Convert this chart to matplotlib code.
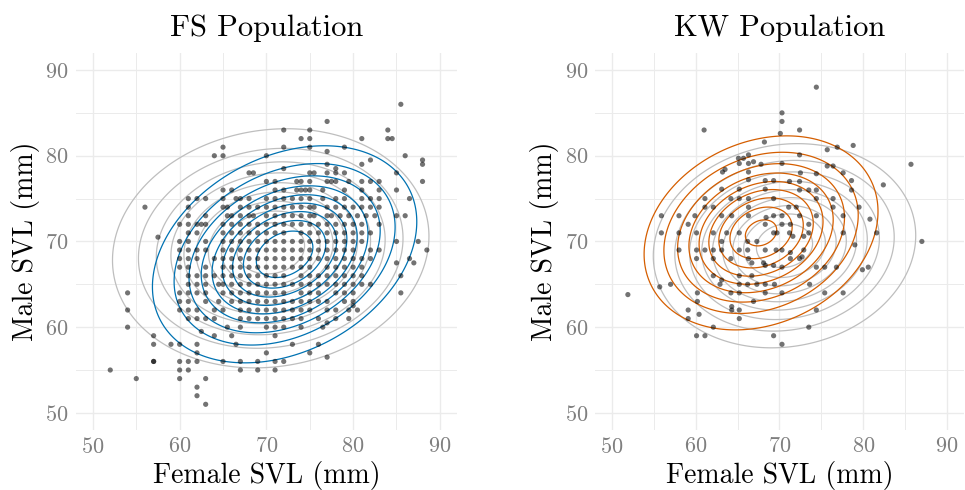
import numpy as np
import matplotlib
matplotlib.use('Agg')
import matplotlib.pyplot as plt

plt.rcParams['font.family'] = ['cmr10', 'DejaVu Serif']
plt.rcParams['mathtext.fontset'] = 'cm'
plt.rcParams['axes.formatter.use_mathtext'] = True
plt.rcParams['axes.unicode_minus'] = False

# ---------------- data ----------------
titles = ["FS Population", "KW Population"]
x_label = "Female SVL (mm)"
y_label = "Male SVL (mm)"
ticks = [50, 60, 70, 80, 90]

# FS population: male SVL rows and the female SVL values found on each row
fs_row_male = [86, 84, 83, 82, 81, 80.5, 80, 79.5, 79, 78.5, 78, 77, 76, 75, 74, 73, 72, 71,
               70.5, 70, 69, 68, 67.5, 67, 66, 65, 64, 63, 62.5, 62, 61, 60.5, 60, 59.5,
               59, 58, 57, 56.5, 56, 55, 54, 53, 52, 51]
fs_row_female = [
    [85.5],
    [77],
    [72, 75, 84],
    [74, 75, 81, 84, 84.5],
    [65, 72, 75, 79],
    [77],
    [64, 65, 70, 86],
    [82, 88],
    [77, 81, 88],
    [72, 78],
    [68, 68.5, 75, 75.5, 77, 78, 79, 85],
    [70, 71, 73.5, 74, 75, 77, 77.5, 78, 79.5, 81, 82, 83, 88],
    [65, 66, 71, 72, 73.5, 74, 74.5, 75, 76.5, 79, 81, 83, 85],
    [61, 62, 63, 65, 66.5, 67, 68, 70, 71, 72, 73, 74, 75, 76.5, 78, 79, 81, 82, 83, 86.5],
    [56, 61, 65, 65.5, 67, 68, 69, 70, 71, 72, 73, 74, 75, 75.5, 77, 78, 79, 80, 81, 82, 83],
    [61, 63, 65.5, 66, 67, 68, 68.5, 70, 71, 72, 73, 74, 75, 75.5, 77, 77.5, 78.5, 79.5,
     80.5, 81.5, 82.5, 85, 86],
    [60, 61, 62, 62.5, 63, 65, 66, 67, 68, 69, 70, 71, 72, 73, 74, 75, 76, 77, 78, 79, 80, 81, 83],
    [61, 62, 65, 66, 67, 68, 69, 70, 71, 72, 74, 75, 76, 77, 78, 79, 80, 81, 82],
    [57.5],
    [60, 61, 63, 65, 66, 67, 68, 69, 70, 71, 72, 73, 74, 75, 76, 77, 78, 79, 80, 81, 85, 87.5],
    [60, 61, 62, 63, 65, 66, 67, 68, 69, 70, 71, 72, 73, 74, 75, 76, 77, 78, 79, 80, 82, 83, 88.5],
    [60, 61, 62, 64, 65, 66, 67, 68, 69, 70, 71, 72, 73, 74, 75, 76, 77, 78, 79, 80, 81, 82, 86.5],
    [85, 87],
    [60, 61, 63, 65, 66, 67, 68, 69, 70, 71, 72, 73, 74, 75, 77, 78, 79, 80, 81],
    [61, 62, 63, 64, 65, 66, 67, 68, 69, 70, 71, 72, 74, 75, 76, 77, 78, 79, 80, 81, 85.5],
    [61, 62, 63, 64.5, 65, 66, 67, 68, 69, 70, 71, 72, 73, 74, 75, 76, 77, 78, 79, 80, 81, 82],
    [54, 60, 61, 62, 63, 65, 66, 67, 68, 69, 70, 71, 72, 74, 75, 76, 78, 79, 80, 85.5],
    [60, 61, 63, 64.5, 66, 67, 68, 69, 70, 71, 72, 73, 74, 75, 76, 77, 79, 80],
    [80],
    [54, 60, 61, 62, 64, 65, 67, 68, 69, 70, 71, 72, 73, 74, 75, 77, 78, 79.5, 80.5],
    [61, 62, 63, 64, 67, 68, 69, 70, 71, 72, 73, 74, 76, 78, 79.5],
    [77],
    [54, 65.5, 67, 70, 71, 72, 74, 76.5],
    [62.5],
    [57, 64, 66, 71],
    [57, 59, 60, 62, 66.5, 73, 76],
    [62, 70, 75],
    [77],
    [57, 57, 60, 61, 62, 65, 67, 69, 71, 72],
    [52, 60, 61, 67, 69, 71],
    [55, 60, 63],
    [62],
    [62],
    [63],
]

# KW population points
kw_female = [61, 68.2, 65.1, 65.7, 66.3, 65.2, 66.3, 66.9, 67.8, 63.2, 63.5, 66.3, 66.3, 68.3, 69.3,
             63.1, 65.2, 68.3, 61.1, 64.2, 65.2, 66.3, 69.3, 61.1, 62.1, 66.3, 55.9, 58.0, 59.1,
             59.9, 63.1, 64.3, 66.3, 68.4, 69.3, 68.3, 55.9, 58.0, 60.1, 62.1, 63.7, 65.2, 69.3,
             63.1, 66.2, 67.3, 58.0, 60.1, 61.1, 62.1, 63.1, 65.2, 66.2, 68.3, 69.6, 60.1, 62.1,
             64.2, 66.3, 66.7, 68.1, 68.3, 69.3, 62.1, 63.1, 65.2, 66.7, 62.9, 65.2, 66.2, 67.3,
             68.3, 55.7, 57, 60.2, 64.2, 65.2, 68.3, 60.2, 66.9, 64.3, 64.3, 65.2, 59.1, 60.4,
             59.1, 65.2, 62.1, 60.1, 61.1, 69.3, 51.9,
             74.4, 70.3, 70.3, 72.4, 70.1, 78.8, 76.9, 75.7, 72.4, 70.3, 75.7, 76.4, 77.6, 74.4,
             72.5, 78.6, 82.4, 71.2, 72.4, 72.4, 73.5, 74.4, 78.6, 74.4, 76.4, 71.1, 72, 76.4,
             79.5, 70.3, 72.4, 74.4, 77.6, 80.8, 70.3, 71.3, 73.5, 69.7, 71.2, 73.5, 77.6, 81.6,
             72.9, 71.6, 79, 70.3, 71.3, 72.9, 72.7, 72.4, 71.3, 70.3, 74.4, 75.4, 76.8, 79.9,
             80.6, 73.6, 69.4, 70.3, 75.4, 77.6, 74.4, 73.5, 70.3, 85.7, 87]
kw_male = [83, 81.6, 79.7, 79.7, 80.1, 79.1, 79.1, 79.3, 79.0, 78.1, 78.4, 78.1, 77.2, 77.1, 77.1,
           76.1, 76.1, 76.1, 75, 75, 75, 75, 75, 74, 74, 74, 73, 73, 72,
           73, 73, 73, 73, 72.8, 73, 72, 71, 71, 71, 71, 71, 71, 71,
           70, 70, 70, 69, 69, 69, 69, 69, 69, 69, 69, 69, 68, 68,
           68, 68, 67.5, 67.5, 67.2, 67.2, 66, 65.5, 66, 66, 65, 65, 65, 65,
           65, 64.7, 65, 64, 64, 64, 64, 63, 63, 62.4, 62, 62, 62, 61.5,
           61, 61, 60, 59, 59, 59, 63.8,
           88, 85, 84, 83, 82.6, 81.2, 81, 80.7, 80.1, 79.1, 78.8, 78.8, 78, 77.9,
           78, 77.1, 76.6, 77, 77, 76, 76, 76, 76, 75, 75, 74, 74, 74,
           74, 73, 73, 73, 73, 72.6, 72, 72, 72, 71, 71, 71, 71, 71,
           70.6, 70.6, 69.6, 69, 68.7, 69, 68.2, 68, 68, 67, 67, 67, 67, 66.7,
           67, 65, 65, 64, 64, 64, 62, 60, 58, 79, 70]

# bivariate-normal contour parameters: mean x, mean y, sd x, sd y, correlation, peak/step ratio
fs_fit = [72.1, 68.5, 7.1, 5.9, 0.30, 10.0]
fs_ref = [70.5, 69.2, 8.5, 6.5, 0.10, 10.0]
kw_fit = [67.8, 71.0, 6.6, 5.35, 0.22, 9.37]
kw_ref = [70.6, 69.5, 7.3, 5.55, 0.10, 10.0]
contour_steps = [1, 2, 3, 4, 5, 6, 7, 8, 9]

fs_female = [x for row in fs_row_female for x in row]
fs_male = [m for m, row in zip(fs_row_male, fs_row_female) for _ in row]

# ---------------- drawing ----------------
fig = plt.figure(figsize=(9.65, 4.9), dpi=100)
axL = fig.add_axes([0.0783, 0.1224, 0.3955, 0.7697])
axR = fig.add_axes([0.6168, 0.1224, 0.3819, 0.7697])

gx, gy = np.meshgrid(np.linspace(40, 100, 600), np.linspace(40, 100, 600))


def rel_density(p):
    mx, my, sx, sy, r, a = p
    zx = (gx - mx) / sx
    zy = (gy - my) / sy
    q = (zx ** 2 - 2 * r * zx * zy + zy ** 2) / (1 - r ** 2)
    return a * np.exp(-q / 2)


panels = [
    (axL, fs_female, fs_male, fs_ref, fs_fit, '#0072B2', titles[0]),
    (axR, kw_female, kw_male, kw_ref, kw_fit, '#D55E00', titles[1]),
]

for ax, xs, ys, ref, fit, col, title in panels:
    ax.set_xlim(48, 92)
    ax.set_ylim(48, 92)
    ax.set_xticks(ticks)
    ax.set_yticks(ticks)
    ax.set_xticks([55, 65, 75, 85], minor=True)
    ax.set_yticks([55, 65, 75, 85], minor=True)
    ax.grid(True, which='major', color='#EBEBEB', lw=1.0)
    ax.grid(True, which='minor', color='#EBEBEB', lw=0.7)
    ax.set_axisbelow(True)
    for s in ax.spines.values():
        s.set_visible(False)
    ax.tick_params(which='both', length=0, labelsize=16, colors='#7F7F7F', pad=5)
    ax.contour(gx, gy, rel_density(ref), levels=contour_steps, colors='#BEBEBE',
               linewidths=0.9, zorder=2)
    ax.contour(gx, gy, rel_density(fit), levels=contour_steps, colors=col,
               linewidths=0.9, zorder=3)
    ax.scatter(xs, ys, s=14, color='black', alpha=0.55, edgecolors='none', zorder=4)
    ax.set_title(title, fontsize=22, pad=12)
    ax.set_xlabel(x_label, fontsize=20, labelpad=3)
    ax.set_ylabel(y_label, fontsize=20, labelpad=4)

fig.savefig('out.png', dpi=100)
